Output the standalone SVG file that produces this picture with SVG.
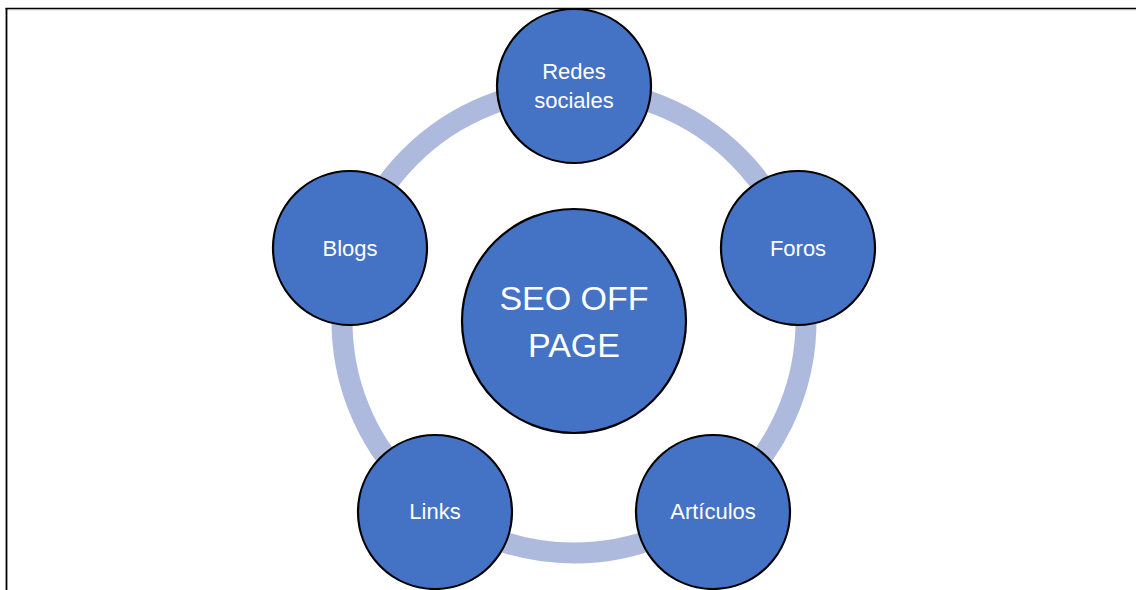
<svg xmlns="http://www.w3.org/2000/svg" width="1136" height="590" viewBox="0 0 1136 590">
<style>
.node{fill:#4472C4;stroke:#000;stroke-width:2.2}
.lbl{fill:#fff;font-family:"Liberation Sans",Arial,sans-serif;font-size:22px;text-anchor:middle}
.big{font-size:34px}
.ring{fill:none;stroke:#AEB9DE;stroke-width:21}
</style>
<rect width="1136" height="590" fill="#fff"/>
<line x1="6" y1="10" x2="1136" y2="10" stroke="#d9d9d9" stroke-width="1"/>
<line x1="5.5" y1="8.5" x2="1136" y2="8.5" stroke="#000" stroke-width="1.5"/>
<line x1="6.5" y1="8" x2="6.5" y2="590" stroke="#000" stroke-width="1.8"/>
<g id="connectors">
<circle class="ring" cx="574" cy="321" r="232"/>
</g>
<g id="center">
<circle class="node" cx="574" cy="321" r="112"/>
<text class="lbl big" x="574" y="310">SEO OFF</text>
<text class="lbl big" x="574" y="357">PAGE</text>
</g>
<g id="redes">
<circle class="node" cx="574" cy="86" r="77"/>
<text class="lbl" x="574" y="79">Redes</text>
<text class="lbl" x="574" y="108">sociales</text>
</g>
<g id="foros">
<circle class="node" cx="798" cy="248" r="77"/>
<text class="lbl" x="798" y="256">Foros</text>
</g>
<g id="articulos">
<circle class="node" cx="713" cy="512" r="77"/>
<text class="lbl" x="713" y="519">Artículos</text>
</g>
<g id="links">
<circle class="node" cx="435" cy="512" r="77"/>
<text class="lbl" x="435" y="519">Links</text>
</g>
<g id="blogs">
<circle class="node" cx="350" cy="248" r="77"/>
<text class="lbl" x="350" y="256">Blogs</text>
</g>
</svg>
